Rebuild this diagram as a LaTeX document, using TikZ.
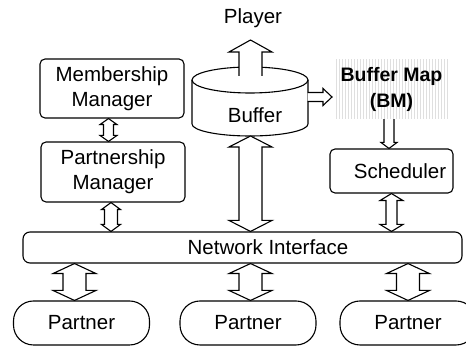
\documentclass[tikz,border=0pt]{standalone}
\usepackage{fontspec}
\setmainfont{Liberation Sans}
\usetikzlibrary{calc,patterns}
\tikzset{
  box/.style={draw, line width=1.1pt, rounded corners=5pt, align=center, inner sep=0pt},
  partner/.style={box, rounded corners=20pt, minimum width=136pt, minimum height=44pt},
  % hollow block arrow with a head at both ends: shaft, head, head length
  fatboth/.style n args={3}{draw, fill=white, line width=1.1pt, to path={
    (\tikztostart) -- ($(\tikztostart)!#3pt!(\tikztotarget)!#2pt!90:(\tikztotarget)$)
    -- ($(\tikztostart)!#3pt!(\tikztotarget)!#1pt!90:(\tikztotarget)$)
    -- ($(\tikztotarget)!#3pt!(\tikztostart)!#1pt!-90:(\tikztostart)$)
    -- ($(\tikztotarget)!#3pt!(\tikztostart)!#2pt!-90:(\tikztostart)$)
    -- (\tikztotarget)
    -- ($(\tikztotarget)!#3pt!(\tikztostart)!#2pt!90:(\tikztostart)$)
    -- ($(\tikztotarget)!#3pt!(\tikztostart)!#1pt!90:(\tikztostart)$)
    -- ($(\tikztostart)!#3pt!(\tikztotarget)!#1pt!-90:(\tikztotarget)$)
    -- ($(\tikztostart)!#3pt!(\tikztotarget)!#2pt!-90:(\tikztotarget)$) -- cycle}},
  % same, one head, open tail
  fatone/.style n args={3}{draw, fill=white, line width=1.1pt, to path={
    ($(\tikztostart)!#1pt!-90:(\tikztotarget)$)
    -- ($(\tikztotarget)!#3pt!(\tikztostart)!#1pt!90:(\tikztostart)$)
    -- ($(\tikztotarget)!#3pt!(\tikztostart)!#2pt!90:(\tikztostart)$)
    -- (\tikztotarget)
    -- ($(\tikztotarget)!#3pt!(\tikztostart)!#2pt!-90:(\tikztostart)$)
    -- ($(\tikztotarget)!#3pt!(\tikztostart)!#1pt!-90:(\tikztostart)$)
    -- ($(\tikztostart)!#1pt!90:(\tikztotarget)$)}},
}

\begin{document}
\begin{tikzpicture}[x=1pt, y=1pt, font=\fontsize{20.5}{25}\selectfont]
      \useasboundingbox (0,0) rectangle (466,347);
      \clip (0,0) rectangle (466,347);

      \node at (112,258.5) [box, minimum width=144pt, minimum height=59pt] (memb) {Membership\\Manager};
      \node at (113,175) [box, minimum width=144pt, minimum height=60pt] (partn) {Partnership\\Manager};
      \node at (242.5,99.5) [box, rounded corners=7pt, minimum width=439pt, minimum height=31pt,
        label={[xshift=25.5pt]center:Network Interface}] (netif) {};
      \node at (391.5,176) [box, minimum width=123pt, minimum height=44pt,
        label={[xshift=8.5pt]center:Scheduler}] (sched) {};
      \node at (391.5,257.5) [pattern=vertical lines, pattern color=gray!25, minimum width=113pt,
        minimum height=59pt, align=center, inner sep=0pt, font=\fontsize{19.5}{26}\selectfont\bfseries] (bmap) {Buffer Map\\(BM)};

      \node at (81.5,24) [partner] (part1) {Partner};
      \node at (248,24) [partner] (part2) {Partner};
      \node at (408,24) [partner] (part3) {Partner};

      \node at (253,329) (player) {Player};

      % buffer
      \draw[line width=1.1pt] (250,267) ellipse [x radius=58, y radius=13];
      \draw[line width=1.1pt] (192,267) -- (192,223) arc [start angle=180, end angle=360, x radius=58, y radius=12] -- (308,267);
      \node at (255,232) (buftext) {Buffer};
      \coordinate (buftop) at (250.5,271);
      \coordinate (bufbot) at (250.5,211);
      \coordinate (bufside) at (307.5,250);
      \coordinate (playin) at (250.5,307);
      \coordinate (bmin) at (332,250);

      % arrow columns
      \coordinate (cmp) at (108.5,0);
      \coordinate (cpn) at (111,0);
      \coordinate (cbuf) at (250.5,0);
      \coordinate (cbs) at (389,0);
      \coordinate (csn) at (391.5,0);
      \coordinate (cp1) at (74.5,0);
      \coordinate (cp2) at (250.5,0);
      \coordinate (cp3) at (408,0);

      \draw[fatone={11.5}{21.5}{12}] (buftop) to (playin);
      \draw[fatone={4.5}{8.5}{9}] (bufside) to (bmin);
      \draw[fatone={5}{8}{6}] (cbs |- bmap.south) to (cbs |- sched.north);

      \draw[fatboth={5}{8.5}{6}] (cmp |- memb.south) to (cmp |- partn.north);
      \draw[fatboth={6.5}{9.5}{7}] (cpn |- partn.south) to (cpn |- netif.north);
      \draw[fatboth={11.5}{21.5}{11}] (bufbot) to (cbuf |- netif.north);
      \draw[fatboth={5.5}{11.5}{7}] (csn |- sched.south) to (csn |- netif.north);

      \draw[fatboth={11.5}{21.5}{10}] (cp1 |- netif.south) to (cp1 |- part1.north);
      \draw[fatboth={11.5}{21.5}{10}] (cp2 |- netif.south) to (cp2 |- part2.north);
      \draw[fatboth={11.5}{21.5}{10}] (cp3 |- netif.south) to (cp3 |- part3.north);
    \end{tikzpicture}
\end{document}
